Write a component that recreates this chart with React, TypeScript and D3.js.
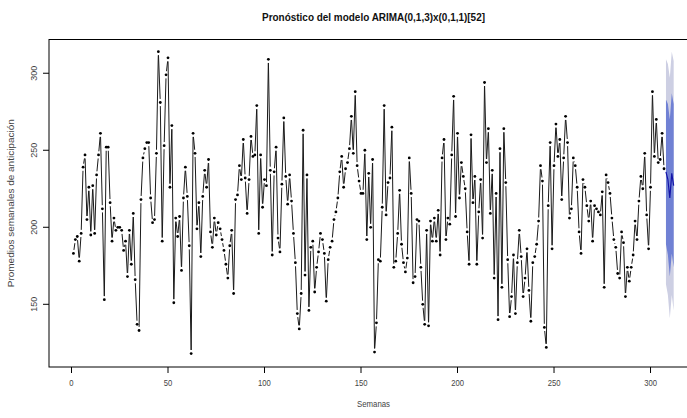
import React from "react";
import * as d3 from "d3";

const observedA = [183,192,194,178,196,239,247,205,226,195,227,196,234,247,261,212,153,252,252,216,191,206,198,200,
  200,198,185,191,168,198,176,209,166,137,133,218,
  245,251,255,255,219,203,205,248,314,281,191,253,299,310,226,266,
  151,206,194,207,172,219,239,220,188,118];
const observedB = [261,248,199,216,181,220,237,226,244,197,
  187,206,195,203,199,192,185,176,167,188,
  198,157,218,221,240,231,257,232,209,231,
  259,246,247,279,196,247,213,231,227,309,
  237,182,236,252,193,184,228,271,233,215,234,
  217,196,177,144,134,157,263,169,234,146,
  187,191,158,174,184,196,192,183,152,179];
const observedC = [187,191,205,210,219,236,246,226,238,242,
  251,272,248,288,240,230,222,222,250,192,
  235,200,244,119,138,179,178,213,279,208,
  229,232,265,174,178,196,224,189,177,171,
  180,245,222,164,168,205,204,174,150,137,
  198,136,204,191,206,191,211,182,245,257,
  192,206,202,247,285,207,261,219,242,233,
  225,197,176,260,216,233,176,210,231,193];
const observedD = [294,242,264,209,237,167,222,140,251,161,
  264,229,179,142,155,182,144,177,198,181,
  155,167,186,159,139,177,181,189,204,240,
  230,135,122,214,255,186,240,267,246,257,
  218,245,272,255,206,212,245,240,226,197,
  183,231,226,214,204,217,191,214,212,210,
  208,223,161,234,229,222,206,192,187,170,
  167,197,190,155,174,165,174,182,204,192,
  217,233,225,248,208,186,226,288,246,270,
  242,244,261,238];

const forecastMean = [236, 231, 219, 235, 227];
const hi80 = [283, 280, 270, 287, 280];
const lo80 = [189, 182, 168, 183, 174];
const hi95 = [309, 306, 297, 314, 308];
const lo95 = [163, 156, 141, 156, 146];

const xTicks = [0, 50, 100, 150, 200, 250, 300];
const yTicks = [150, 200, 250, 300];

const title = "Pronóstico del modelo ARIMA(0,1,3)x(0,1,1)[52]";
const xLabel = "Semanas";
const yLabel = "Promedios semanales de anticipación";

export default function App() {
  const W = 687, H = 418;
  const L = 49, T = 39.5, R = 698, B = 367;
  const observed = [...observedA, ...observedB, ...observedC, ...observedD];
  const n = observed.length;
  const x = d3.scaleLinear().domain([-11.66, 324.6]).range([L, R]);
  const y = d3.scaleLinear().domain([109.3, 321.9]).range([B, T]);

  const pts = observed.map((v, i) => [x(i + 1), y(v)] as [number, number]);
  const gap = 3.6;
  const segs: string[] = [];
  for (let i = 0; i < pts.length - 1; i++) {
    const [x1, y1] = pts[i];
    const [x2, y2] = pts[i + 1];
    const dx = x2 - x1, dy = y2 - y1;
    const len = Math.hypot(dx, dy);
    if (len <= 2 * gap) continue;
    const ux = dx / len, uy = dy / len;
    segs.push(`M${x1 + ux * gap},${y1 + uy * gap}L${x2 - ux * gap},${y2 - uy * gap}`);
  }

  const fIdx = forecastMean.map((_, i) => n + 1 + i);
  const area95 = d3.area<number>().x((i) => x(fIdx[i])).y0((i) => y(lo95[i])).y1((i) => y(hi95[i]));
  const area80 = d3.area<number>().x((i) => x(fIdx[i])).y0((i) => y(lo80[i])).y1((i) => y(hi80[i]));
  const meanLine = d3.line<number>().x((i) => x(fIdx[i])).y((i) => y(forecastMean[i]));
  const idx = forecastMean.map((_, i) => i);

  const font = "'Liberation Sans', Arial, sans-serif";
  const txt = "#444";

  return (
    <svg width={W} height={H} style={{ position: "absolute", left: 0, top: 0, background: "#fff" }}>
      <defs>
        <clipPath id="plotclip">
          <rect x={L} y={T} width={R - L} height={B - T} />
        </clipPath>
      </defs>
      <rect x={0} y={0} width={W} height={H} fill="#fff" />
      <g clipPath="url(#plotclip)">
        <path d={area95(idx) || ""} fill="#cdcfe3" stroke="none" />
        <path d={area80(idx) || ""} fill="#7081d4" stroke="none" />
        <path d={meanLine(idx) || ""} fill="none" stroke="#1414a8" strokeWidth={1.2} />
        <path d={segs.join("")} fill="none" stroke="#1a1a1a" strokeWidth={1} />
        {pts.map((p, i) => (
          <circle key={i} cx={p[0]} cy={p[1]} r={1.4} fill="#000" />
        ))}
      </g>
      <rect x={L} y={T} width={R - L} height={B - T} fill="none" stroke="#000" strokeWidth={1} />
      {xTicks.map((t) => (
        <g key={t}>
          <line x1={x(t)} x2={x(t)} y1={B} y2={B + 6} stroke="#000" />
          <text x={x(t)} y={386} textAnchor="middle" fontFamily={font} fontSize={9} fill={txt}
            transform={`translate(${x(t)},0) scale(0.85,1) translate(${-x(t)},0)`}>{t}</text>
        </g>
      ))}
      {yTicks.map((t) => (
        <g key={t}>
          <line x1={L} x2={L - 6} y1={y(t)} y2={y(t)} stroke="#000" />
          <text transform={`translate(36.5,${y(t)}) rotate(-90)`} textAnchor="middle" fontFamily={font}
            fontSize={9} fill={txt}>{t}</text>
        </g>
      ))}
      <text x={373.5} y={21} textAnchor="middle" fontFamily={font} fontSize={11} fontWeight="bold"
        fill="#111" textLength={223} lengthAdjust="spacingAndGlyphs">{title}</text>
      <text x={373.5} y={407} textAnchor="middle" fontFamily={font} fontSize={9} fill={txt}
        textLength={33} lengthAdjust="spacingAndGlyphs">{xLabel}</text>
      <text transform={`translate(14,${(T + B) / 2}) rotate(-90)`} textAnchor="middle" fontFamily={font}
        fontSize={9} fill={txt} textLength={168} lengthAdjust="spacingAndGlyphs">{yLabel}</text>
    </svg>
  );
}
